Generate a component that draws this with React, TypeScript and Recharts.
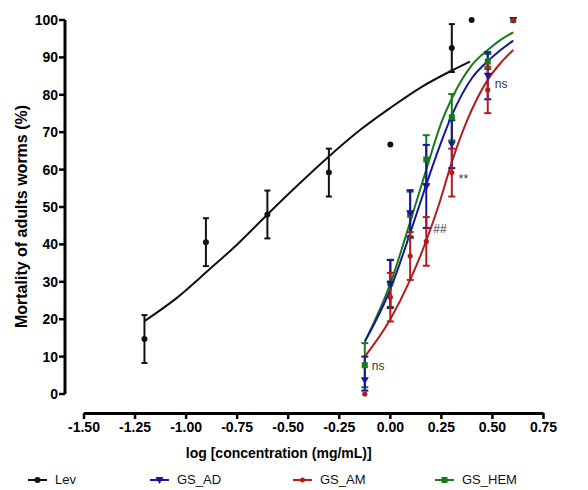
import React from 'react';
import {
  ComposedChart,
  Line,
  Scatter,
  XAxis,
  YAxis,
  ErrorBar,
  Legend,
  ReferenceDot,
} from 'recharts';

// ---------- data ----------
const xTicks = [-1.5, -1.25, -1.0, -0.75, -0.5, -0.25, 0, 0.25, 0.5, 0.75];
const yTicks = [0, 10, 20, 30, 40, 50, 60, 70, 80, 90, 100];

// observed means and SD (x = log concentration)
const levPoints = [
  { x: -1.204, y: 14.7, err: 6.4 },
  { x: -0.903, y: 40.6, err: 6.4 },
  { x: -0.602, y: 48.0, err: 6.4 },
  { x: -0.301, y: 59.2, err: 6.4 },
  { x: 0, y: 66.7, err: 0 },
  { x: 0.301, y: 92.5, err: 6.4 },
  { x: 0.398, y: 100, err: 0 },
];
const adPoints = [
  { x: -0.125, y: 3.7, err: [2.8, 6.3] },
  { x: 0, y: 29.4, err: 6.4 },
  { x: 0.097, y: 48.3, err: 6.2 },
  { x: 0.176, y: 55.5, err: 11.1 },
  { x: 0.301, y: 66.8, err: 6.4 },
  { x: 0.477, y: 85.1, err: 6.3 },
  { x: 0.602, y: 100, err: 0 },
];
const amPoints = [
  { x: -0.125, y: 0, err: 0 },
  { x: 0, y: 25.9, err: 6.5 },
  { x: 0.097, y: 36.9, err: 6.4 },
  { x: 0.176, y: 40.8, err: 6.5 },
  { x: 0.301, y: 59.2, err: 6.4 },
  { x: 0.477, y: 81.3, err: 6.2 },
  { x: 0.602, y: 100, err: 0 },
];
const hemPoints = [
  { x: -0.125, y: 7.7, err: 5.9 },
  { x: 0, y: 29.6, err: 6.3 },
  { x: 0.097, y: 47.9, err: 6.2 },
  { x: 0.176, y: 62.7, err: 6.5 },
  { x: 0.301, y: 74.0, err: 6.2 },
  { x: 0.477, y: 88.9, err: 2 },
  { x: 0.602, y: 100, err: 0 },
];

// fitted curves
const levCurve = [
  { x: -1.204, y: 19.5 },
  { x: -1.05, y: 25.5 },
  { x: -0.903, y: 32.5 },
  { x: -0.75, y: 40 },
  { x: -0.602, y: 48 },
  { x: -0.45, y: 56 },
  { x: -0.301, y: 63.5 },
  { x: -0.15, y: 70.5 },
  { x: 0, y: 76.5 },
  { x: 0.15, y: 82 },
  { x: 0.301, y: 86.5 },
  { x: 0.39, y: 88.9 },
];
const adCurve = [
  { x: -0.125, y: 14 },
  { x: 0, y: 28 },
  { x: 0.097, y: 43 },
  { x: 0.176, y: 56 },
  { x: 0.24, y: 66 },
  { x: 0.301, y: 74.5 },
  { x: 0.4, y: 84.5 },
  { x: 0.477, y: 89 },
  { x: 0.54, y: 92 },
  { x: 0.602, y: 94.5 },
];
const amCurve = [
  { x: -0.125, y: 10 },
  { x: 0, y: 20 },
  { x: 0.097, y: 30.5 },
  { x: 0.176, y: 41 },
  { x: 0.24, y: 51 },
  { x: 0.301, y: 62 },
  { x: 0.375, y: 73 },
  { x: 0.477, y: 84 },
  { x: 0.54, y: 88.5 },
  { x: 0.602, y: 92 },
];
const hemCurve = [
  { x: -0.125, y: 14 },
  { x: 0, y: 29.5 },
  { x: 0.097, y: 46 },
  { x: 0.176, y: 60 },
  { x: 0.253, y: 73 },
  { x: 0.301, y: 79 },
  { x: 0.4, y: 88 },
  { x: 0.477, y: 92 },
  { x: 0.54, y: 94.7 },
  { x: 0.602, y: 96.7 },
];

const annotations = [
  { x: -0.125, y: 7.7, text: 'ns' },
  { x: 0.176, y: 44.3, text: '##' },
  { x: 0.301, y: 57.6, text: '**' },
  { x: 0.477, y: 82.9, text: 'ns' },
];

const seriesNames = ['Lev', 'GS_AD', 'GS_AM', 'GS_HEM'];

// ---------- styles ----------
const FONT = '"Liberation Sans", Arial, Helvetica, sans-serif';
const C_LEV = '#111111';
const C_AD = '#16169c';
const C_AM = '#b41c1c';
const C_HEM = '#177a17';
const AXIS_GAP = 19;
const legendLefts = [20, 142, 285, 427];

const circleShape = (color: string, r: number) => (p: any) =>
  <circle cx={p.cx} cy={p.cy} r={r} fill={color} />;
const triShape = (color: string) => (p: any) => (
  <polygon
    points={`${p.cx - 4},${p.cy - 3} ${p.cx + 4},${p.cy - 3} ${p.cx},${p.cy + 4}`}
    fill={color}
  />
);
const squareShape = (color: string) => (p: any) =>
  <rect x={p.cx - 3} y={p.cy - 3} width={6} height={6} fill={color} />;

const XTick = (props: any) => {
  const { x, y, payload } = props;
  return (
    <g>
      <line x1={x} x2={x} y1={y + AXIS_GAP} y2={y + AXIS_GAP + 6} stroke="#000" strokeWidth={2.5} />
      <text
        x={x}
        y={y + AXIS_GAP + 19}
        textAnchor="middle"
        fontFamily={FONT}
        fontSize={14}
        fontWeight="bold"
        fill="#000"
      >
        {Number(payload.value).toFixed(2)}
      </text>
    </g>
  );
};

const YTick = (props: any) => {
  const { x, y, payload } = props;
  return (
    <g>
      <line x1={x - AXIS_GAP - 6} x2={x - AXIS_GAP} y1={y} y2={y} stroke="#000" strokeWidth={2.5} />
      <text
        x={x - AXIS_GAP - 7}
        y={y}
        dy="0.36em"
        textAnchor="end"
        fontFamily={FONT}
        fontSize={14}
        fontWeight="bold"
        fill="#000"
      >
        {payload.value}
      </text>
    </g>
  );
};

const YTitle = (props: any) => {
  const vb = props.viewBox || { x: 16, y: 12, width: 60, height: 374 };
  const cx = vb.x - 2.5;
  const cy = vb.y + vb.height / 2 + 9.5;
  return (
    <text
      x={cx}
      y={cy}
      transform={`rotate(-90, ${cx}, ${cy})`}
      textAnchor="middle"
      dy="0.36em"
      fontFamily={FONT}
      fontSize={16}
      fontWeight="bold"
      fill="#000"
    >
      Mortality of adults worms (%)
    </text>
  );
};

const XTitle = (props: any) => {
  const vb = props.viewBox || { x: 76, y: 386, width: 459.5, height: 76 };
  const cx = vb.x + vb.width / 2 - 35;
  const cy = vb.y + 64;
  return (
    <text x={cx} y={cy} textAnchor="middle" fontFamily={FONT} fontSize={14} fontWeight="bold" fill="#000">
      log [concentration (mg/mL)]
    </text>
  );
};

const AnnotationLabel = (text: string) => (props: any) => {
  const vb = props.viewBox || { x: 0, y: 0, width: 0, height: 0 };
  const x = vb.x + (vb.width || 0) + 6;
  const y = vb.y + (vb.height || 0) / 2;
  return (
    <text x={x} y={y} dy="0.36em" textAnchor="start" fontFamily={FONT} fontSize={12} fill="#333333">
      {text}
    </text>
  );
};

const legendMarker = (i: number) => {
  const colors = [C_LEV, C_AD, C_AM, C_HEM];
  const c = colors[i];
  let m: React.ReactNode = null;
  if (i === 0) m = <circle cx={9.5} cy={5} r={3} fill={c} />;
  if (i === 1) m = <polygon points="5.5,2 13.5,2 9.5,9" fill={c} />;
  if (i === 2) m = <circle cx={9.5} cy={5} r={2.5} fill={c} />;
  if (i === 3) m = <rect x={6.5} y={2} width={6} height={6} fill={c} />;
  return (
    <svg width={19} height={10} style={{ display: 'block' }}>
      <line x1={0} x2={19} y1={5} y2={5} stroke={c} strokeWidth={2} />
      {m}
    </svg>
  );
};

const renderLegend = () => (
  <div style={{ position: 'relative', width: 580, height: 20 }}>
    {seriesNames.map((name, i) => (
      <div
        key={name}
        style={{
          position: 'absolute',
          left: legendLefts[i],
          top: 1,
          height: 18,
          display: 'flex',
          alignItems: 'center',
          fontFamily: FONT,
          fontSize: 13,
          lineHeight: '18px',
          color: '#111',
        }}
      >
        {legendMarker(i)}
        <span style={{ marginLeft: 8 }}>{name}</span>
      </div>
    ))}
  </div>
);

export default function App() {
  return (
    <ComposedChart
      width={580}
      height={482}
      margin={{ top: 12, right: 44.5, left: 16, bottom: 0 }}
      style={{ fontFamily: FONT }}
    >
      <XAxis
        type="number"
        dataKey="x"
        domain={[-1.5, 0.75]}
        ticks={xTicks}
        interval={0}
        height={76}
        tickSize={0}
        tickMargin={0}
        tick={<XTick />}
        tickLine={false}
        axisLine={{ stroke: '#000', strokeWidth: 3, transform: `translate(0, ${AXIS_GAP + 0.5})` }}
        label={(p: any) => <XTitle {...p} />}
      />
      <YAxis
        type="number"
        dataKey="y"
        domain={[0, 100]}
        ticks={yTicks}
        interval={0}
        width={60}
        tickSize={0}
        tickMargin={0}
        tick={<YTick />}
        tickLine={false}
        axisLine={{ stroke: '#000', strokeWidth: 3, transform: `translate(-${AXIS_GAP}, 0)` }}
        label={(p: any) => <YTitle {...p} />}
      />
      <Legend
        verticalAlign="bottom"
        height={20}
        content={renderLegend}
        wrapperStyle={{ left: 0, bottom: 0, width: 580, height: 20 }}
      />

      <Line data={levCurve} dataKey="y" type="monotone" stroke={C_LEV} strokeWidth={2} dot={false} isAnimationActive={false} legendType="none" />
      <Line data={hemCurve} dataKey="y" type="monotone" stroke={C_HEM} strokeWidth={2} dot={false} isAnimationActive={false} legendType="none" />
      <Line data={adCurve} dataKey="y" type="monotone" stroke={C_AD} strokeWidth={2} dot={false} isAnimationActive={false} legendType="none" />
      <Line data={amCurve} dataKey="y" type="monotone" stroke={C_AM} strokeWidth={2} dot={false} isAnimationActive={false} legendType="none" />

      <Scatter name="Lev" data={levPoints} dataKey="y" shape={circleShape(C_LEV, 3)} isAnimationActive={false}>
        <ErrorBar dataKey="err" direction="y" width={3} stroke={C_LEV} strokeWidth={2} />
      </Scatter>
      <Scatter name="GS_HEM" data={hemPoints} dataKey="y" shape={squareShape(C_HEM)} isAnimationActive={false}>
        <ErrorBar dataKey="err" direction="y" width={3.5} stroke={C_HEM} strokeWidth={2} />
      </Scatter>
      <Scatter name="GS_AD" data={adPoints} dataKey="y" shape={triShape(C_AD)} isAnimationActive={false}>
        <ErrorBar dataKey="err" direction="y" width={3.5} stroke={C_AD} strokeWidth={2} />
      </Scatter>
      <Scatter name="GS_AM" data={amPoints} dataKey="y" shape={circleShape(C_AM, 2.6)} isAnimationActive={false}>
        <ErrorBar dataKey="err" direction="y" width={3.5} stroke={C_AM} strokeWidth={2} />
      </Scatter>

      {annotations.map((a, i) => (
        <ReferenceDot
          key={i}
          x={a.x}
          y={a.y}
          r={1}
          fill="none"
          stroke="none"
          ifOverflow="visible"
          label={AnnotationLabel(a.text)}
        />
      ))}
    </ComposedChart>
  );
}
